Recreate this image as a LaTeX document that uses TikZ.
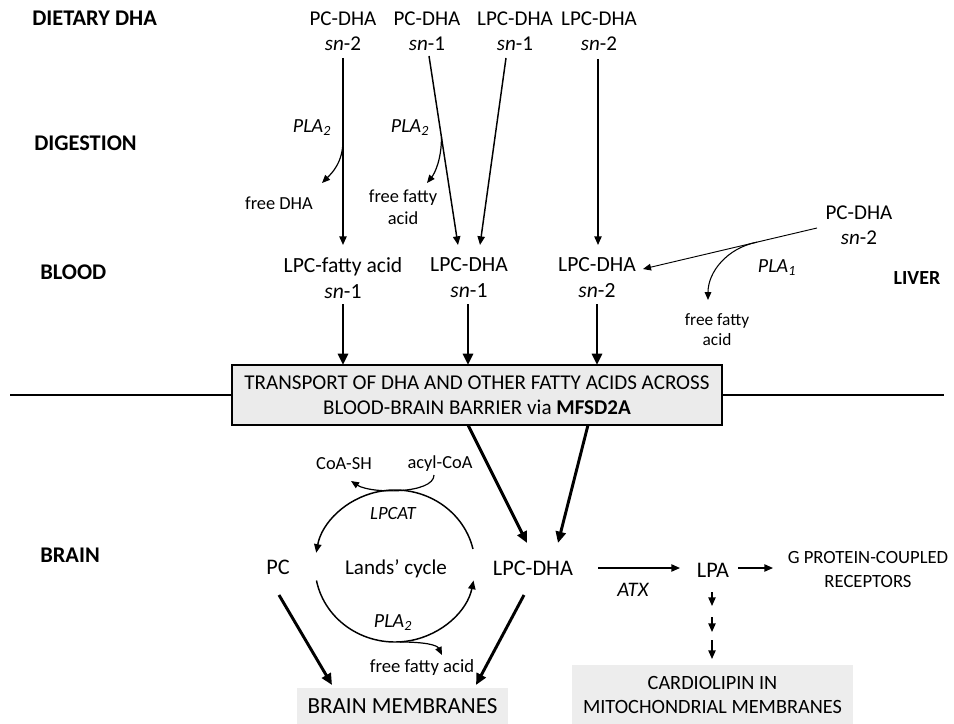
\documentclass[tikz,border=0pt]{standalone}
\usepackage{fontspec}
\setmainfont{Carlito}
\usepackage{tikz}
\usetikzlibrary{arrows.meta}
\definecolor{BBBox}{HTML}{EBEBEB}
\definecolor{BBLight}{HTML}{EDEDED}

\tikzset{
  txt/.style={font=\fontsize{15.8}{18.75}\selectfont, align=center, inner sep=1pt},
  big/.style={font=\fontsize{16.7}{20}\selectfont, align=center, inner sep=1pt},
  note/.style={font=\fontsize{13.8}{16.5}\selectfont, align=center, inner sep=1pt},
  stage/.style={font=\fontsize{16.8}{20}\selectfont\bfseries, anchor=west, inner sep=0pt},
  enzyme/.style={font=\fontsize{15}{17}\selectfont\itshape, inner sep=1pt},
  arr/.style={-{Triangle[length=6.5pt,width=5.5pt]}, line width=1.1pt},
  fatarr/.style={-{Triangle[length=8.5pt,width=7.5pt]}, line width=2.2pt},
  thinarr/.style={-{Triangle[length=6pt,width=5pt]}, line width=0.7pt},
  sidearr/.style={-{Triangle[length=6pt,width=5pt]}, line width=0.9pt},
}

\begin{document}
\begin{tikzpicture}[x=0.75pt,y=-0.75pt]
\path[use as bounding box] (0,0) rectangle (954,724);

% stages
\node[stage] (dietary) at (32,18) {DIETARY DHA};
\node[stage] (digestion) at (34,143) {DIGESTION};
\node[stage] (blood) at (40,272) {BLOOD};
\node[stage] (brain) at (40,555) {BRAIN};
\node[stage,anchor=center,font=\fontsize{15}{18}\selectfont\bfseries] (liver) at (917,278) {LIVER};

% dietary forms
\node[txt] (pcA) at (343,31) {PC-DHA\\\textit{sn}-2};
\node[txt] (pcB) at (427,31) {PC-DHA\\\textit{sn}-1};
\node[txt] (lpcA) at (515,31) {LPC-DHA\\\textit{sn}-1};
\node[txt] (lpcB) at (599,31) {LPC-DHA\\\textit{sn}-2};

% blood forms
\node[txt,font=\fontsize{16.2}{19.5}\selectfont] (bFA) at (343,278) {LPC-fatty acid\\\textit{sn}-1};
\node[txt,font=\fontsize{16.2}{19.5}\selectfont] (bB) at (469,278) {LPC-DHA\\\textit{sn}-1};
\node[txt,font=\fontsize{16.2}{19.5}\selectfont] (bC) at (597,278) {LPC-DHA\\\textit{sn}-2};

% digestion
\node[enzyme] (plaA) at (312,128) {PLA\textsubscript{2}};
\node[enzyme] (plaB) at (410,128) {PLA\textsubscript{2}};
\node[note] (freeDHA) at (279,203) {free DHA};
\node[note] (ffaB) at (403,207) {free fatty\\acid};

\draw[arr] ([shift={(0,27)}]pcA.center) -- coordinate[pos=0.44] (brA) ([shift={(0,-33)}]bFA.center);
\draw[arr] ([shift={(2,25)}]pcB.center) -- coordinate[pos=0.43] (brB) ([shift={(-11,-33)}]bB.center);
\draw[arr] ([shift={(-9,27)}]lpcA.center) -- ([shift={(11,-33)}]bB.center);
\draw[arr] ([shift={(-1,28)}]lpcB.center) -- ([shift={(1,-33)}]bC.center);
\draw[sidearr] (brA) .. controls +(0,22) and +(10,-10) .. ([shift={(43,-20)}]freeDHA.center);
\draw[sidearr] (brB) .. controls +(0,22) and +(8,-10) .. ([shift={(24,-24)}]ffaB.center);

% liver
\node[txt] (lvPC) at (859,225) {PC-DHA\\\textit{sn}-2};
\node[enzyme] (plaL) at (777,268) {PLA\textsubscript{1}};
\node[note,font=\fontsize{13}{15}\selectfont] (lvFFA) at (717,330) {free fatty\\acid};
\draw[thinarr] ([shift={(-42,3)}]lvPC.center) -- coordinate[pos=0.345] (brL) ([shift={(46,-9)}]bC.center);
\draw[sidearr,line width=0.8pt] (brL) .. controls +(-30,6) and +(0,-28) .. ([shift={(-9,-30)}]lvFFA.center);

% barrier
\node[draw,line width=1.1pt,fill=BBBox,minimum width=367.5pt,minimum height=45pt,
  align=center,font=\fontsize{15.8}{18.75}\selectfont,inner sep=0pt] (tb) at (477,395)
  {TRANSPORT OF DHA AND OTHER FATTY ACIDS ACROSS\\BLOOD-BRAIN BARRIER via \textbf{MFSD2A}};
\draw[line width=1.1pt] (10,395) -- (tb.west);
\draw[line width=1.1pt] (tb.east) -- (944,395);

\draw[fatarr] ([shift={(0,26)}]bFA.center) -- ([shift={(-134,-30)}]tb.center);
\draw[fatarr] ([shift={(-1,26)}]bB.center) -- ([shift={(-9,-30)}]tb.center);
\draw[fatarr] ([shift={(0,26)}]bC.center) -- ([shift={(120,-30)}]tb.center);

% brain
\node[big] (pc) at (278,567) {PC};
\node[big] (lpc) at (533,568) {LPC-DHA};
\node[txt] (lands) at (396,569) {Lands’ cycle};
\node[note] (coash) at (344,464) {CoA-SH};
\node[note] (acyl) at (440,464) {acyl-CoA};
\node[enzyme,font=\fontsize{14}{16}\selectfont\itshape] (lpcat) at (393,514) {LPCAT};
\node[enzyme] (plaC) at (393,623) {PLA\textsubscript{2}};
\node[note,font=\fontsize{14}{17}\selectfont] (ffaC) at (422,668) {free fatty acid};
\node[big] (lpa) at (713,570) {LPA};
\node[txt,font=\fontsize{14}{18}\selectfont] (gpcr) at (868,570) {G PROTEIN-COUPLED\\RECEPTORS};
\node[fill=BBLight,minimum width=158.25pt,minimum height=27pt,inner sep=0pt,
  font=\fontsize{17.3}{20}\selectfont] (bm) at (402.5,706) {BRAIN MEMBRANES};
\node[fill=BBLight,minimum width=210.75pt,minimum height=44.25pt,inner sep=0pt,align=center,
  font=\fontsize{15.2}{18}\selectfont] (cl) at (712.5,694.5) {CARDIOLIPIN IN\\MITOCHONDRIAL MEMBRANES};

\coordinate (cyc) at (395,566);
\draw[arr] ([shift={(-13:80 and 76)}]cyc) arc[start angle=-13,end angle=-170,x radius=80,y radius=76];
\draw[arr] ([shift={(169:80 and 76)}]cyc) arc[start angle=169,end angle=11,x radius=80,y radius=76];
\draw[sidearr] ([shift={(-6,11)}]acyl.center) .. controls +(0,19) and +(20,13) .. ([shift={(7,17)}]coash.center);
\draw[sidearr] ([shift={(5,76)}]cyc) .. controls +(25,0) and +(-5,-10) .. ([shift={(20,-13)}]ffaC.center);

\draw[fatarr] ([shift={(-9,30)}]tb.center) -- ([shift={(-6,-25)}]lpc.center);
\draw[fatarr] ([shift={(111,30)}]tb.center) -- ([shift={(25,-25)}]lpc.center);
\draw[fatarr] ([shift={(1,28)}]pc.center) -- ([shift={(-70.5,-21)}]bm.center);
\draw[fatarr] ([shift={(-9,27)}]lpc.center) -- ([shift={(73.5,-21)}]bm.center);

\draw[arr] ([shift={(65,0)}]lpc.center) -- ([shift={(-33,-2)}]lpa.center);
\node[enzyme,font=\fontsize{15.5}{17}\selectfont\itshape] (atx) at (633,590) {ATX};
\draw[arr] ([shift={(25,-2)}]lpa.center) -- ([shift={(-95,-2)}]gpcr.center);
\foreach \a/\b in {22/36,47/62,70/89}
  \draw[arr] ([shift={(-1,\a)}]lpa.center) -- ([shift={(-1,\b)}]lpa.center);
\end{tikzpicture}
\end{document}
